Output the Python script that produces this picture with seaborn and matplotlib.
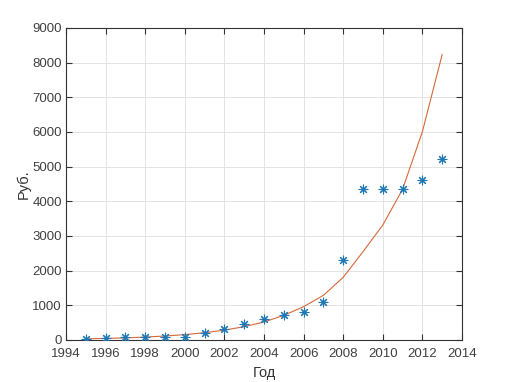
import matplotlib
matplotlib.use("Agg")
import matplotlib.pyplot as plt
import seaborn as sns
import pandas as pd

years = [1995, 1996, 1997, 1998, 1999, 2000, 2001, 2002, 2003, 2004,
         2005, 2006, 2007, 2008, 2009, 2010, 2011, 2012, 2013]
prices = [20, 50, 80, 80, 80, 80, 210, 310, 460, 600,
          720, 800, 1090, 2310, 4350, 4350, 4350, 4610, 5210]
fit = [34, 46, 62, 85, 115, 155, 210, 285, 385, 520,
       710, 962, 1288, 1808, 2547, 3316, 4350, 6010, 8240]

x_ticks = list(range(1994, 2015, 2))
y_ticks = list(range(0, 9001, 1000))

sns.set_theme(style="white")
plt.rcParams['font.family'] = ['Liberation Sans', 'DejaVu Sans']

df = pd.DataFrame({"year": years, "price": prices, "fit": fit})

fig = plt.figure(figsize=(5.1, 3.82), dpi=100)
ax = fig.add_axes([66/510, 42/382, 396/510, 312/382])

sns.scatterplot(data=df, x="year", y="price", ax=ax, marker=(8, 2, 0), s=40,
                color="#1f77b4", linewidth=0.8, zorder=3)
sns.lineplot(data=df, x="year", y="fit", ax=ax, color="#D4693A", linewidth=0.8, zorder=2)

ax.set_xlim(1994, 2014)
ax.set_ylim(0, 9000)
ax.set_xticks(x_ticks)
ax.set_yticks(y_ticks)
ax.grid(True, color="#e3e3e3", linewidth=0.7)
ax.set_axisbelow(True)
for s in ax.spines.values():
    s.set_visible(True)
    s.set_color("#333333")
    s.set_linewidth(0.8)
ax.tick_params(axis="both", direction="in", length=4, width=0.8, colors="#333333",
               labelsize=9.5, top=True, right=True, bottom=True, left=True,
               labeltop=False, labelright=False)
ax.tick_params(axis="x", pad=6)
ax.tick_params(axis="y", pad=3)
for lab in ax.get_xticklabels() + ax.get_yticklabels():
    lab.set_color("#404040")
ax.set_xlabel("Год", fontsize=10.5, color="#333333", labelpad=4)
ax.set_ylabel("Руб.", fontsize=10.5, color="#333333", labelpad=1)

fig.savefig("out.png", dpi=100)
